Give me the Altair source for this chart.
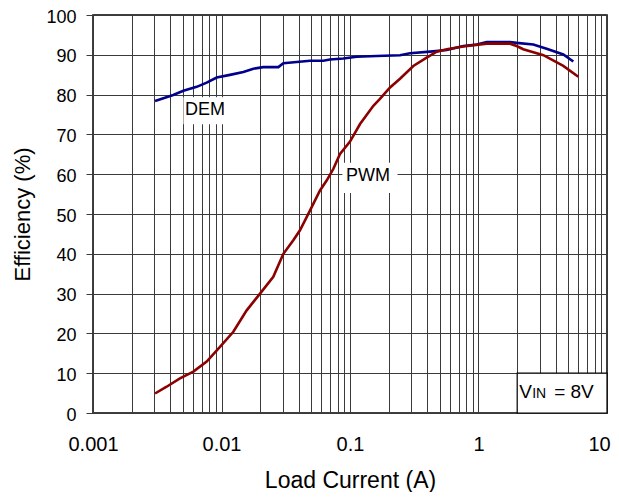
import altair as alt
import pandas as pd

# ---- data ----
dem_current = [0.00304, 0.00421, 0.00505, 0.00641, 0.00767, 0.00918, 0.01164, 0.0148, 0.0177,
               0.0211, 0.0277, 0.0303, 0.0385, 0.0489, 0.0620, 0.0698, 0.0887, 0.1127, 0.1614,
               0.245, 0.293, 0.420, 0.566, 0.762, 0.969, 1.159, 1.758, 1.98, 2.67, 3.39, 4.57, 5.47]
dem_eff = [78.4, 79.9, 80.95, 81.95, 83.0, 84.3, 84.96, 85.7, 86.5,
           86.9, 86.9, 87.9, 88.2, 88.5, 88.5, 88.8, 89.05, 89.5, 89.7,
           89.9, 90.4, 90.8, 91.2, 92.2, 92.6, 93.2, 93.2, 93.0, 92.6, 91.5, 90.1, 88.3]

pwm_current = [0.00304, 0.00374, 0.00475, 0.00604, 0.00767, 0.00973, 0.01236, 0.0157, 0.01995,
               0.0253, 0.0303, 0.0362, 0.0408, 0.0489, 0.0584, 0.0658, 0.0741, 0.0836, 0.1,
               0.1197, 0.152, 0.171, 0.205, 0.245, 0.311, 0.395, 0.473, 0.566, 0.762, 1.159,
               1.76, 1.98, 2.23, 3.2, 4.57, 5.98]
pwm_eff = [4.9, 6.6, 8.7, 10.4, 12.9, 16.6, 20.4, 25.8, 30.0,
           34.2, 40.0, 43.4, 45.9, 50.9, 55.9, 58.4, 61.3, 65.1, 68.2,
           72.6, 77.2, 78.9, 81.8, 84.0, 87.2, 89.3, 90.8, 91.4, 92.1, 92.8,
           92.8, 92.2, 91.4, 89.9, 87.2, 84.5]

series_names = ["DEM", "PWM"]
series_colors = ["#00008C", "#8C0000"]
x_tick_labels = ["0.001", "0.01", "0.1", "1", "10"]
y_ticks = [0, 10, 20, 30, 40, 50, 60, 70, 80, 90, 100]

# ---- table ----
df = pd.concat([
    pd.DataFrame({"current": dem_current, "eff": dem_eff, "series": "DEM", "order": range(len(dem_current))}),
    pd.DataFrame({"current": pwm_current, "eff": pwm_eff, "series": "PWM", "order": range(len(pwm_current))}),
])

grid_x = [m * 10.0 ** e for e in range(-3, 1) for m in range(1, 10)] + [10.0]

FONT = "Liberation Sans"
label_list = "[" + ",".join("'" + s + "'" for s in x_tick_labels) + "]"
x_label_expr = f"indexof({label_list}, format(datum.value, '.3~f')) >= 0 ? format(datum.value, '.3~f') : ''"

x_scale = alt.Scale(type="log", domain=[0.001, 10], nice=False)
y_scale = alt.Scale(domain=[0, 100], nice=False)

x_axis = alt.Axis(values=grid_x, labelExpr=x_label_expr, title="Load Current (A)",
                  grid=True, gridColor="#3a3a3a", gridWidth=1, gridOpacity=1,
                  ticks=False, domain=False, labelFlush=False, labelOverlap=False,
                  labelOffset={"condition": {"test": "datum.value > 9.99", "value": -8}, "value": 0},
                  labelFont=FONT, labelFontSize=20, labelColor="black", labelPadding=21,
                  titleFont=FONT, titleFontSize=23, titleFontWeight="normal", titleColor="black",
                  titlePadding=15)
y_axis = alt.Axis(values=y_ticks, title="Efficiency (%)",
                  grid=True, gridColor="#3a3a3a", gridWidth=1, gridOpacity=1,
                  ticks=True, tickSize=7, tickColor="#3a3a3a", domain=False,
                  labelFont=FONT, labelFontSize=18, labelColor="black", labelPadding=10,
                  labelOffset=2,
                  titleFont=FONT, titleFontSize=22, titleFontWeight="normal", titleColor="black",
                  titlePadding=11)

# white label boxes (annotation placement)
boxes = pd.DataFrame({
    "x": [0.00511, 0.0882, 2.0],
    "x2": [0.01123, 0.232, 10.0],
    "y": [72.7, 55.4, 0.0],
    "y2": [79.2, 62.7, 10.0],
    "stroke": ["white", "white", "black"],
})

box_layer = alt.Chart(boxes).mark_rect(fill="white", strokeWidth=1.2).encode(
    x=alt.X("x:Q", scale=x_scale, axis=x_axis),
    x2="x2:Q",
    y=alt.Y("y:Q", scale=y_scale, axis=y_axis),
    y2="y2:Q",
    stroke=alt.Stroke("stroke:N", scale=None),
)

lines = alt.Chart(df).mark_line(strokeWidth=2.6).encode(
    x=alt.X("current:Q", scale=x_scale, axis=x_axis),
    y=alt.Y("eff:Q", scale=y_scale, axis=y_axis),
    color=alt.Color("series:N", scale=alt.Scale(domain=series_names, range=series_colors), legend=None),
    order="order:Q",
)

labels = pd.DataFrame({"x": [0.00744, 0.138], "y": [76.2, 59.6], "t": series_names})
label_layer = alt.Chart(labels).mark_text(font=FONT, fontSize=18, color="black", baseline="middle",
                                          align="center").encode(
    x=alt.X("x:Q", scale=x_scale, axis=x_axis),
    y=alt.Y("y:Q", scale=y_scale, axis=y_axis),
    text="t:N",
)

vin_text = ["V", "IN", "= 8V"]
vin_dx = [2, 15, 37]
vin_fs = [19, 14, 19]
vin_parts = []
for t, dx, fs in zip(vin_text, vin_dx, vin_fs):
    part = pd.DataFrame({"x": [2.0], "y": [3.7], "t": [t]})
    vin_parts.append(
        alt.Chart(part).mark_text(font=FONT, color="black", baseline="alphabetic",
                                  align="left", dx=dx, fontSize=fs).encode(
            x=alt.X("x:Q", scale=x_scale, axis=x_axis),
            y=alt.Y("y:Q", scale=y_scale, axis=y_axis),
            text="t:N",
        )
    )

chart = alt.layer(box_layer, lines, label_layer, *vin_parts).properties(
    width=514, height=398,
    background="white",
    autosize=alt.AutoSizeParams(type="none"),
    padding={"left": 85, "top": 7, "right": 4, "bottom": 79},
).configure_view(stroke="black", strokeWidth=1.5)

chart.save("out.html", embed_options={"renderer": "svg", "actions": False})
